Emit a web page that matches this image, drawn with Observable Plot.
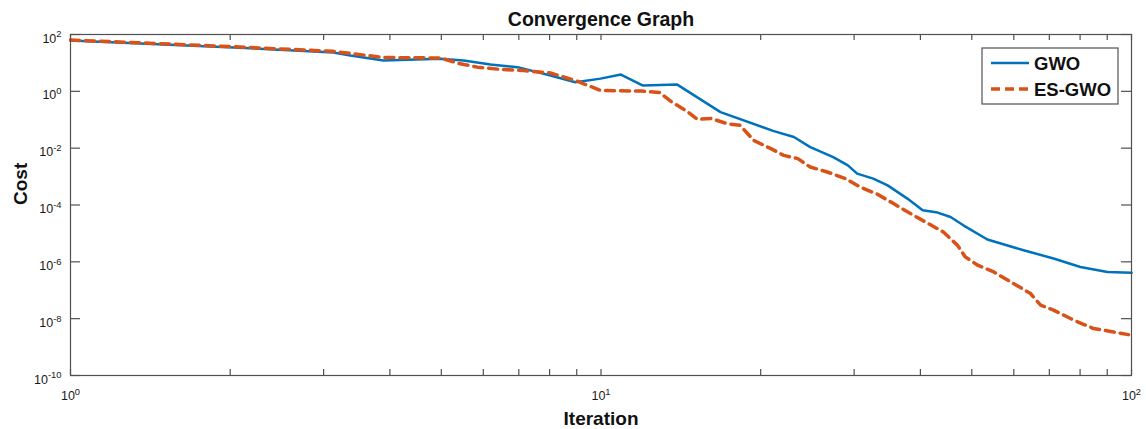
<!DOCTYPE html>
<html><head><meta charset="utf-8">
<script src="https://cdn.jsdelivr.net/npm/d3@7"></script>
<script src="https://cdn.jsdelivr.net/npm/@observablehq/plot@0.6"></script>
<style>html,body{margin:0;padding:0;background:#fff}</style>
</head><body><div id="chart"></div>
<script>
// ---- data ----
const gwoIter = [1, 2.03, 3.13, 3.37, 3.89, 4.98, 5.51, 6.19, 6.96, 8.03, 8.95, 9.98, 10.9, 12.0, 13.9, 16.8, 21.1, 23.1, 24.8, 27.4, 29.2, 30.4, 32.6, 34.7, 37.8, 40.4, 43.1, 45.6, 48.2, 53.5, 62.6, 71.3, 80.1, 90.1, 100];
const gwoCost = [61.5, 34.9, 23.3, 18.3, 12.2, 14.0, 12.2, 8.8, 7.1, 3.6, 2.1, 2.8, 3.9, 1.6, 1.75, 0.186, 0.0406, 0.0246, 0.0109, 0.00487, 0.00248, 0.00127, 8.5e-4, 4.9e-4, 1.68e-4, 6.5e-5, 5.4e-5, 3.8e-5, 1.93e-5, 6.1e-6, 2.56e-6, 1.31e-6, 6.6e-7, 4.4e-7, 4.1e-7];
const esIter = [1, 2.03, 3.13, 3.89, 4.98, 5.43, 5.85, 6.47, 7.14, 8.03, 8.95, 9.98, 11.9, 12.9, 13.6, 14.6, 15.2, 16.1, 17.3, 18.3, 19.4, 20.9, 22.1, 23.5, 24.8, 26.7, 28.9, 30.8, 33.2, 35.6, 38.3, 40.9, 44.2, 47.0, 48.6, 51.3, 55.0, 59.9, 64.5, 67.4, 71.3, 77.8, 84.8, 92.5, 98.7];
const esCost = [64, 37, 25.5, 15.5, 14.9, 9.3, 7.1, 5.9, 5.4, 4.4, 2.4, 1.08, 1.02, 0.91, 0.42, 0.186, 0.103, 0.111, 0.0726, 0.0633, 0.0188, 0.0096, 0.00558, 0.00428, 0.00217, 0.00145, 8.5e-4, 4.3e-4, 2.38e-4, 1.12e-4, 5.0e-5, 2.52e-5, 1.12e-5, 3.8e-6, 1.49e-6, 7.6e-7, 4.4e-7, 1.73e-7, 7.7e-8, 3.0e-8, 2.0e-8, 8.9e-9, 4.5e-9, 3.4e-9, 2.74e-9];
const seriesNames = ["GWO", "ES-GWO"];
const seriesColors = ["#0072BD", "#D95319"];
const xTicks = [1,2,3,4,5,6,7,8,9,10,20,30,40,50,60,70,80,90,100];
const xLabelTicks = [1, 10, 100];
const yTicks = [1e2, 1e0, 1e-2, 1e-4, 1e-6, 1e-8, 1e-10];
const titleText = "Convergence Graph";
const xLabel = "Iteration";
const yLabel = "Cost";

const W = 1146, H = 429, ML = 70, MR = 15, MT = 34, MB = 54;
const FW = W - ML - MR, FH = H - MT - MB;
const gwo = gwoIter.map((x, i) => ({x, y: gwoCost[i]}));
const es = esIter.map((x, i) => ({x, y: esCost[i]}));
const fmt = d => `10^${Math.round(Math.log10(d))}`;
const axisColor = "#505050";
const font = "'Liberation Sans', Arial, Helvetica, sans-serif";

const chart = Plot.plot({
  width: W, height: H,
  marginLeft: ML, marginRight: MR, marginTop: MT, marginBottom: MB,
  style: {fontFamily: font, background: "white", color: "#1a1a1a"},
  x: {type: "log", domain: [1, 100]},
  y: {type: "log", domain: [1e-10, 1e2]},
  marks: [
    Plot.line(gwo, {x: "x", y: "y", stroke: seriesColors[0], strokeWidth: 2.5}),
    Plot.line(es, {x: "x", y: "y", stroke: seriesColors[1], strokeWidth: 3.5, strokeDasharray: "9,6"}),
    // inward ticks on all four sides
    Plot.tickX(xTicks, {x: d => d, insetTop: FH - 6, stroke: axisColor, strokeWidth: 1.2}),
    Plot.tickX(xTicks, {x: d => d, insetBottom: FH - 6, stroke: axisColor, strokeWidth: 1.2}),
    Plot.tickY(yTicks, {y: d => d, insetRight: FW - 10, stroke: axisColor, strokeWidth: 1.2}),
    Plot.tickY(yTicks, {y: d => d, insetLeft: FW - 10, stroke: axisColor, strokeWidth: 1.2}),
    Plot.frame({stroke: axisColor, strokeWidth: 1.2}),
    Plot.axisX(xLabelTicks, {anchor: "bottom", tickSize: 0, tickPadding: 16, tickFormat: fmt, label: null, fontSize: 12.5}),
    Plot.axisY(yTicks, {anchor: "left", tickSize: 0, tickPadding: 9, tickFormat: fmt, label: null, fontSize: 12.5, dy: 4}),
    Plot.text([titleText], {frameAnchor: "top", lineAnchor: "middle", dy: -15, fontWeight: "bold", fontSize: 19.5, fill: "#111"}),
    Plot.text([xLabel], {frameAnchor: "bottom", lineAnchor: "middle", dy: 43, fontWeight: "bold", fontSize: 19, fill: "#111"}),
    Plot.text([yLabel], {frameAnchor: "left", lineAnchor: "middle", dx: -50, rotate: -90, fontWeight: "bold", fontSize: 19, fill: "#111"})
  ]
});

// superscript exponents for tick labels
d3.select(chart).selectAll("text").each(function() {
  const m = this.textContent.match(/^10\^(-?\d+)$/);
  if (!m) return;
  const sel = d3.select(this);
  sel.text(null);
  sel.append("tspan").text("10");
  sel.append("tspan").attr("dy", "-0.55em").attr("font-size", "0.75em").text(m[1]);
});

// legend (inside the upper-right corner of the frame)
const svg = d3.select(chart);
const lg = svg.append("g").attr("font-family", font).attr("text-anchor", "start");
lg.append("rect").attr("x", 982).attr("y", 48).attr("width", 136).attr("height", 56)
  .attr("fill", "white").attr("stroke", axisColor).attr("stroke-width", 1.2);
seriesNames.forEach((name, i) => {
  const yy = 63 + i * 26;
  lg.append("line").attr("x1", 991).attr("x2", 1029).attr("y1", yy).attr("y2", yy)
    .attr("stroke", seriesColors[i]).attr("stroke-width", i ? 3.5 : 2.5)
    .attr("stroke-dasharray", i ? "9,5" : null);
  lg.append("text").attr("x", 1034).attr("y", yy).attr("dy", "0.36em")
    .attr("text-anchor", "start")
    .attr("font-size", 18.5).attr("font-weight", "bold").attr("fill", "#111").text(name);
});

document.getElementById("chart").appendChild(chart);
</script>
</body></html>
